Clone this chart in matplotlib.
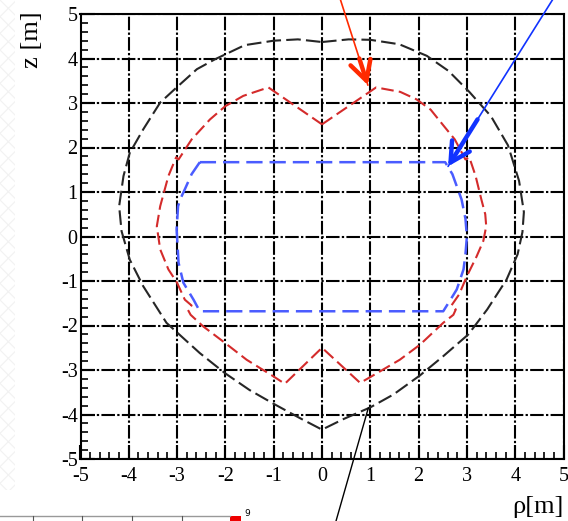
import matplotlib
matplotlib.use("Agg")
import matplotlib.pyplot as plt
from matplotlib.ticker import AutoMinorLocator
from matplotlib.lines import Line2D
from matplotlib.patches import Rectangle

plt.rcParams['font.family'] = ['Liberation Serif', 'DejaVu Serif']
plt.rcParams['axes.unicode_minus'] = False

# outer contour (black)
black_rho = [0.0, 0.55, 1.0, 1.6, 2.17, 2.62, 3.05, 3.5, 3.85, 4.08, 4.18, 4.15,
             4.05, 3.82, 3.42, 3.03, 2.51, 2.03, 1.48, 1.0, 0.45, 0.0,
             -0.46, -1.0, -1.5, -2.01, -2.53, -3.22, -3.7, -3.98, -4.15, -4.2,
             -4.11, -3.98, -3.7, -3.35, -3.01, -2.59, -2.22, -1.6, -1.0, -0.5, 0.0]
black_z = [4.37, 4.43, 4.42, 4.32, 4.06, 3.72, 3.25, 2.7, 2.05, 1.25, 0.55, 0.1,
           -0.4, -0.97, -1.64, -2.2, -2.69, -3.12, -3.55, -3.84, -4.1, -4.34,
           -4.08, -3.76, -3.45, -3.07, -2.62, -1.94, -1.12, -0.52, 0.12, 0.68,
           1.36, 1.88, 2.41, 3.01, 3.35, 3.76, 3.98, 4.3, 4.4, 4.43, 4.37]

# middle contour (red)
red_rho = [0.0, 1.12, 1.62, 1.96, 2.25, 2.51, 2.75, 2.97, 3.05, 3.18, 3.3, 3.38,
           3.4, 3.34, 3.2, 3.0, 2.84, 2.68, 2.77, 2.72, 2.51, 2.03, 1.61, 1.03, 0.79,
           0.0, -0.77, -1.01, -1.56, -2.01, -2.46, -2.72, -2.78, -2.7, -2.84,
           -3.0, -3.18, -3.35, -3.42, -3.35, -3.18, -3.02, -2.97, -2.7, -2.32,
           -2.0, -1.63, -1.11, 0.0]
red_z = [2.52, 3.35, 3.25, 3.08, 2.85, 2.5, 2.18, 1.73, 1.78, 1.36, 0.83, 0.5,
         0.23, -0.1, -0.45, -0.89, -1.3, -1.55, -1.64, -1.76, -1.94, -2.43, -2.77,
         -3.14, -3.29, -2.5, -3.31, -3.14, -2.77, -2.39, -2.02, -1.76, -1.64,
         -1.55, -1.42, -1.04, -0.74, -0.29, 0.23, 0.68, 1.36, 1.78, 1.73, 2.18,
         2.63, 2.93, 3.16, 3.35, 2.52]

# inner contour (blue)
blue_rho = [-2.53, 2.55, 2.7, 2.79, 2.89, 2.97, 3.0, 2.97, 2.93, 2.79, 2.66, 2.51,
            -2.53, -2.66, -2.87, -2.97, -3.01, -2.98, -2.93, -2.84, -2.7, -2.53]
blue_z = [1.67, 1.67, 1.4, 1.13, 0.83, 0.4, 0.0, -0.4, -0.74, -1.19, -1.42, -1.68,
          -1.68, -1.42, -1.04, -0.59, 0.16, 0.68, 0.85, 1.06, 1.4, 1.67]

ticks = [-5, -4, -3, -2, -1, 0, 1, 2, 3, 4, 5]
tick_labels = ['-5', '-4', '-3', '-2', '-1', '0', '1', '2', '3', '4', '5']

# annotation lines (tip, tail) in data units
red_arrow = ((0.95, 3.40), (0.24, 5.8))
blue_arrow = ((2.61, 1.575), (5.05, 5.8))
black_pointer = ((0.96, -3.85), (0.17, -6.85))

fig = plt.figure(figsize=(5.68, 5.21), dpi=100)
ax = fig.add_axes([80.5 / 568, 62 / 521, 483 / 568, 445 / 521])

ax.plot(black_rho, black_z, color='#262626', lw=1.5, ls=(0, (7, 2.5)))
ax.plot(red_rho, red_z, color='#d42b2b', lw=1.5, ls=(0, (6, 2.5)))
ax.plot(blue_rho, blue_z, color='#4a5cff', lw=1.8, ls=(0, (6.5, 2.8)))

ax.set_xlim(-5, 5)
ax.set_ylim(-5, 5)
ax.set_xticks(ticks)
ax.set_xticklabels(tick_labels)
ax.set_yticks(ticks)
ax.set_yticklabels(tick_labels)
ax.xaxis.set_minor_locator(AutoMinorLocator(5))
ax.yaxis.set_minor_locator(AutoMinorLocator(5))
ax.tick_params(which='both', direction='in', top=False, right=False,
               labelsize=14.5, colors='black')
ax.tick_params(which='major', length=10, width=1.5)
ax.tick_params(axis='x', which='major', pad=6)
ax.tick_params(axis='y', which='major', pad=2)
ax.tick_params(which='minor', length=5, width=1.2)
for s in ax.spines.values():
    s.set_linewidth(1.5)

ax.set_axisbelow(True)
ax.grid(True, which='major', color='black', lw=1.5, ls=(0, (6.5, 1.1, 1.1, 1.1)))

ax.text(-0.1, 0.943, 'z [m]', transform=ax.transAxes, rotation=90,
        ha='center', va='center', fontsize=19)
ax.text(1.0, -0.108, 'ρ[m]', transform=ax.transAxes,
        ha='right', va='center', fontsize=19)

# arrows pointing at the contours
for (tip, tail), col in [(red_arrow, '#ff2a00'), (blue_arrow, '#1133ff')]:
    ax.annotate('', xy=tip, xytext=tail, annotation_clip=False,
                arrowprops=dict(arrowstyle='-', lw=1.2, color=col,
                                shrinkA=0, shrinkB=0))
    near = (tip[0] + 0.25 * (tail[0] - tip[0]), tip[1] + 0.25 * (tail[1] - tip[1]))
    ax.annotate('', xy=tip, xytext=near, annotation_clip=False,
                arrowprops=dict(arrowstyle='->,head_length=1.4,head_width=0.75',
                                lw=3.2, color=col, shrinkA=0, shrinkB=0))
ax.annotate('', xy=black_pointer[0], xytext=black_pointer[1], annotation_clip=False,
            arrowprops=dict(arrowstyle='-', lw=1.0, color='black',
                            shrinkA=0, shrinkB=0))

# bits of the page around the chart
plt.rcParams['hatch.linewidth'] = 0.8
fig.add_artist(Rectangle((0, 0.06), 15 / 568, 0.94, transform=fig.transFigure,
                         facecolor='white', edgecolor='#f2f2f2', lw=0, hatch='xx'))
fig.add_artist(Line2D([0, 230 / 568], [5 / 521, 5 / 521], transform=fig.transFigure,
                      color='#999999', lw=1))
for px in [33, 82, 132, 182]:
    fig.add_artist(Line2D([px / 568, px / 568], [0, 5 / 521], transform=fig.transFigure,
                          color='#555555', lw=0.8))
fig.add_artist(Rectangle((230 / 568, 0), 11 / 568, 5 / 521, transform=fig.transFigure,
                         facecolor='#ee0000', edgecolor='none'))
fig.text(244 / 568, 8 / 521, '9', fontsize=6.5, family='DejaVu Sans',
         ha='left', va='center')

fig.savefig('out.png', dpi=100)
